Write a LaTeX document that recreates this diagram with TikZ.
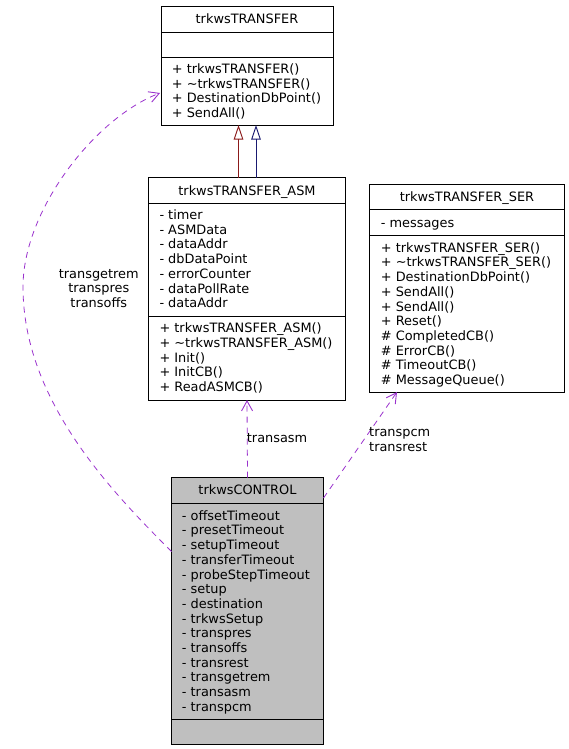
\documentclass[tikz,border=0pt]{standalone}
\usepackage{fontspec}
\setmainfont{DejaVu Sans}
\usetikzlibrary{arrows.meta,calc}
\definecolor{edgepurple}{HTML}{9A32CD}
\definecolor{inhred}{HTML}{8B1A1A}
\definecolor{inhblue}{HTML}{191970}
\definecolor{ctrlgray}{HTML}{BFBFBF}
\begin{document}
\begin{tikzpicture}[x=1pt,y=-1pt,
  classbox/.style={draw=black,line width=0.9pt,anchor=north west,inner sep=0pt,outer sep=0pt},
  member/.style={anchor=west,inner sep=0pt,text height=9pt,text depth=0pt,font=\fontsize{12.9}{14.7}\selectfont},
  titletext/.style={member,anchor=center},
  sepline/.style={line width=0.9pt},
  usage/.style={draw=edgepurple,line width=0.8pt,dash pattern=on 6pt off 5pt,-{Straight Barb[length=10pt,width=11pt,line width=0.9pt]}},
  inherit/.style={line width=0.9pt,-{Triangle[open,length=14.5pt,width=9.5pt]}},
  lbl/.style={inner sep=0pt,font=\fontsize{12.9}{14.7}\selectfont}]
\useasboundingbox (0,0) rectangle (569,749);

% trkwsTRANSFER
\node[classbox,minimum width=172pt,minimum height=119pt] (transfer) at (161,6) {};
\draw[sepline] (161,32) -- (333,32);
\draw[sepline] (161,57) -- (333,57);
\node[titletext] (transfertitle) at (247,18.8) {trkwsTRANSFER};
\foreach \t [count=\i from 0] in {+ trkwsTRANSFER(),+ \textasciitilde trkwsTRANSFER(),+ DestinationDbPoint(),+ SendAll()}
  \node[member] (transferm\i) at (171.7,69+14.7*\i) {\t};

% trkwsTRANSFER_ASM
\node[classbox,minimum width=197pt,minimum height=222.5pt] (asm) at (148.5,177.5) {};
\draw[sepline] (148.5,203.5) -- (345.5,203.5);
\draw[sepline] (148.5,316) -- (345.5,316);
\node[titletext] (asmtitle) at (247,190.7) {trkwsTRANSFER\_ASM};
\foreach \t [count=\i from 0] in {- timer,- ASMData,- dataAddr,- dbDataPoint,- errorCounter,- dataPollRate,- dataAddr}
  \node[member] (asma\i) at (159.3,215+14.7*\i) {\t};
\foreach \t [count=\i from 0] in {+ trkwsTRANSFER\_ASM(),+ \textasciitilde trkwsTRANSFER\_ASM(),+ Init(),+ InitCB(),+ ReadASMCB()}
  \node[member] (asmm\i) at (159.3,328.3+14.7*\i) {\t};

% trkwsTRANSFER_SER
\node[classbox,minimum width=195pt,minimum height=207.5pt] (ser) at (369.5,184.5) {};
\draw[sepline] (369.5,209.5) -- (564.5,209.5);
\draw[sepline] (369.5,235) -- (564.5,235);
\node[titletext] (sertitle) at (467,196.9) {trkwsTRANSFER\_SER};
\node[member] (sera0) at (380.7,222.7) {- messages};
\foreach \t [count=\i from 0] in {+ trkwsTRANSFER\_SER(),+ \textasciitilde trkwsTRANSFER\_SER(),+ DestinationDbPoint(),+ SendAll(),+ SendAll(),+ Reset(),\# CompletedCB(),\# ErrorCB(),\# TimeoutCB(),\# MessageQueue()}
  \node[member] (serm\i) at (380.7,247.7+14.7*\i) {\t};

% trkwsCONTROL
\node[classbox,fill=ctrlgray,minimum width=152pt,minimum height=266.5pt] (control) at (171.5,477.5) {};
\draw[sepline] (171.5,503.5) -- (323.5,503.5);
\draw[sepline] (171.5,719.5) -- (323.5,719.5);
\node[titletext] (controltitle) at (247.5,490.3) {trkwsCONTROL};
\foreach \t [count=\i from 0] in {- offsetTimeout,- presetTimeout,- setupTimeout,- transferTimeout,- probeStepTimeout,- setup,- destination,- trkwsSetup,- transpres,- transoffs,- transrest,- transgetrem,- transasm,- transpcm}
  \node[member] (controla\i) at (181.7,515.7+14.7*\i) {\t};

% inheritance
\draw[inherit,draw=inhred] ([xshift=-8.5pt]asm.north) -- ([xshift=-8.5pt]transfer.south);
\draw[inherit,draw=inhblue] ([xshift=9pt]asm.north) -- ([xshift=9pt]transfer.south);

% usage edges
\draw[usage] (control.north) -- (asm.south);
\node[lbl,anchor=west] (lblasm) at (246.7,438.3) {transasm};

\draw[usage] ([yshift=-20.5pt]control.north east) -- ([xshift=-70pt]ser.south);
\node[lbl,anchor=west,align=left] (lblser) at (369,439.5) {transpcm\\transrest};

\draw[usage] ([yshift=-74pt]control.north west) .. controls (111,491) and (23,400) .. (23,287)
  .. controls (23,210) and (95,118) .. ([xshift=-1pt,yshift=-27.5pt]transfer.west);
\node[lbl,align=center] (lblleft) at (98.8,288.5) {transgetrem\\transpres\\transoffs};
\end{tikzpicture}
\end{document}
